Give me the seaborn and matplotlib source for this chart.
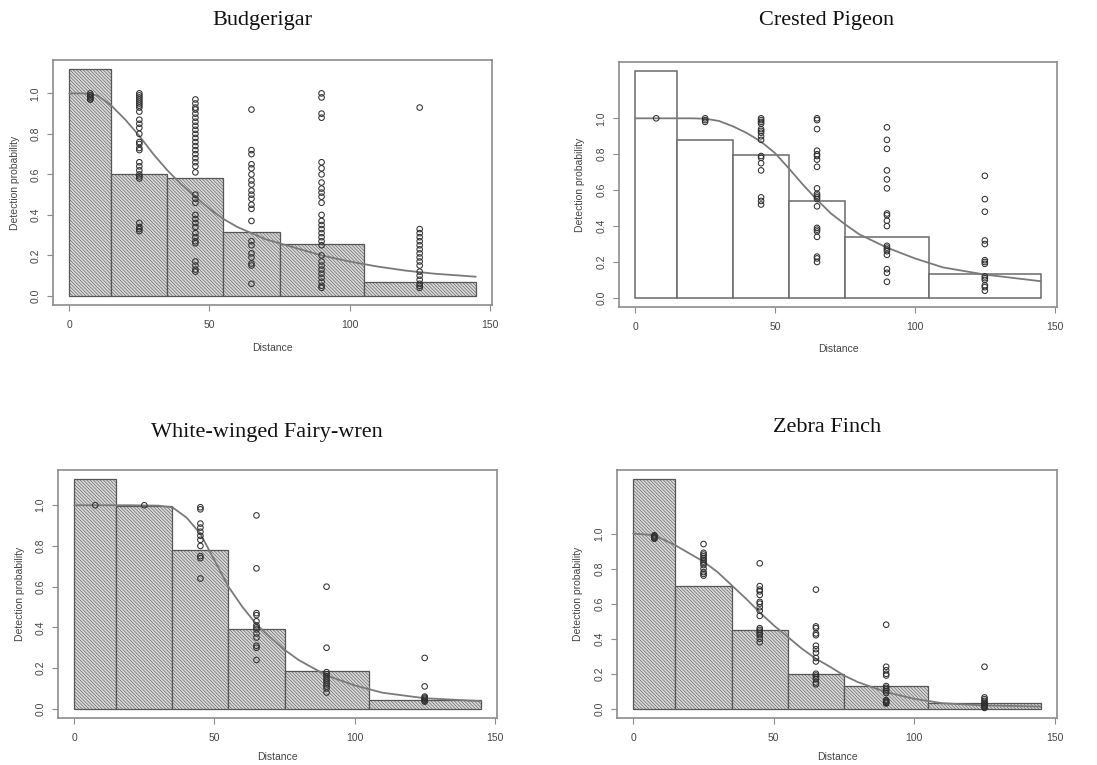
import matplotlib
matplotlib.use('Agg')
import matplotlib.pyplot as plt
import numpy as np
import pandas as pd
import seaborn as sns

# distance bins and bin midpoints (m)
BIN_EDGES = [0, 15, 35, 55, 75, 105, 145]
BIN_MIDS = [7.5, 25, 45, 65, 90, 125]

# scaled histogram heights per species
BUDG_BARS = [1.12, 0.60, 0.58, 0.315, 0.255, 0.07]
PIGEON_BARS = [1.263, 0.88, 0.793, 0.537, 0.337, 0.133]
WREN_BARS = [1.128, 0.995, 0.779, 0.392, 0.185, 0.044]
FINCH_BARS = [1.31, 0.699, 0.448, 0.196, 0.13, 0.032]

# fitted detection functions
BUDG_CURVE_X = [0, 5, 10, 15, 20, 25, 30, 35, 40, 45, 50, 55, 60, 65, 70, 75, 80, 90, 100, 110, 120, 130, 145]
BUDG_CURVE_Y = [1.0, 1.0, 0.99, 0.94, 0.87, 0.79, 0.70, 0.62, 0.55, 0.49, 0.43, 0.38, 0.34, 0.31, 0.28,
                0.26, 0.24, 0.20, 0.17, 0.145, 0.125, 0.11, 0.095]
PIGEON_CURVE_X = [0, 10, 20, 25, 30, 35, 40, 45, 50, 55, 60, 65, 70, 75, 80, 90, 100, 110, 125, 145]
PIGEON_CURVE_Y = [1.0, 1.0, 1.0, 0.998, 0.985, 0.955, 0.917, 0.87, 0.806, 0.72, 0.63, 0.546, 0.47, 0.41,
                  0.355, 0.28, 0.22, 0.17, 0.13, 0.093]
WREN_CURVE_X = [0, 10, 20, 30, 35, 40, 45, 50, 55, 60, 65, 70, 75, 80, 90, 100, 110, 125, 145]
WREN_CURVE_Y = [1.0, 1.0, 1.0, 0.998, 0.99, 0.94, 0.86, 0.73, 0.60, 0.50, 0.415, 0.35, 0.29, 0.24,
                0.164, 0.115, 0.079, 0.052, 0.038]
FINCH_CURVE_X = [0, 7.5, 15, 20, 25, 30, 35, 40, 45, 50, 55, 60, 65, 70, 75, 80, 90, 100, 110, 125, 145]
FINCH_CURVE_Y = [1.0, 0.99, 0.933, 0.886, 0.84, 0.78, 0.705, 0.63, 0.55, 0.476, 0.41, 0.343, 0.286,
                 0.24, 0.19, 0.152, 0.095, 0.057, 0.032, 0.019, 0.013]

# observed detection probabilities at each bin midpoint
BUDG_PTS = {
    7.5: [1.0, 0.99, 0.99, 0.98, 0.98, 0.97, 0.97],
    25: [1.0, 0.99, 0.98, 0.97, 0.96, 0.95, 0.94, 0.93, 0.91, 0.87, 0.85, 0.83, 0.80, 0.76, 0.75, 0.73,
         0.72, 0.66, 0.64, 0.62, 0.60, 0.59, 0.58, 0.36, 0.34, 0.33, 0.32],
    45: [0.97, 0.95, 0.93, 0.92, 0.90, 0.88, 0.86, 0.84, 0.82, 0.80, 0.78, 0.76, 0.74, 0.72, 0.70, 0.68,
         0.66, 0.64, 0.61, 0.50, 0.48, 0.46, 0.40, 0.38, 0.36, 0.34, 0.31, 0.29, 0.27, 0.26, 0.17, 0.15,
         0.13, 0.12],
    65: [0.92, 0.72, 0.70, 0.65, 0.63, 0.60, 0.57, 0.55, 0.52, 0.50, 0.48, 0.45, 0.43, 0.37, 0.27, 0.25,
         0.21, 0.19, 0.16, 0.15, 0.06],
    90: [1.0, 0.98, 0.90, 0.88, 0.66, 0.63, 0.60, 0.56, 0.53, 0.51, 0.49, 0.46, 0.40, 0.37, 0.35, 0.33,
         0.31, 0.29, 0.27, 0.25, 0.20, 0.17, 0.15, 0.13, 0.11, 0.09, 0.07, 0.05, 0.04],
    125: [0.93, 0.33, 0.31, 0.29, 0.27, 0.25, 0.23, 0.21, 0.19, 0.17, 0.15, 0.12, 0.10, 0.08, 0.06, 0.05,
          0.04],
}
PIGEON_PTS = {
    7.5: [1.0],
    25: [1.0, 0.99, 0.98],
    45: [1.0, 0.99, 0.98, 0.97, 0.94, 0.93, 0.92, 0.90, 0.88, 0.79, 0.78, 0.75, 0.71, 0.56, 0.54, 0.52],
    65: [1.0, 0.99, 0.94, 0.82, 0.80, 0.79, 0.77, 0.73, 0.61, 0.58, 0.57, 0.56, 0.55, 0.51, 0.39, 0.38,
         0.37, 0.34, 0.23, 0.22, 0.20],
    90: [0.95, 0.88, 0.83, 0.71, 0.66, 0.61, 0.47, 0.46, 0.43, 0.40, 0.29, 0.28, 0.27, 0.26, 0.24, 0.16,
         0.14, 0.09],
    125: [0.68, 0.55, 0.48, 0.32, 0.30, 0.21, 0.20, 0.19, 0.12, 0.11, 0.10, 0.07, 0.06, 0.04],
}
WREN_PTS = {
    7.5: [1.0],
    25: [1.0],
    45: [0.99, 0.98, 0.91, 0.89, 0.87, 0.85, 0.83, 0.80, 0.75, 0.74, 0.64],
    65: [0.95, 0.69, 0.47, 0.46, 0.43, 0.41, 0.40, 0.39, 0.37, 0.35, 0.31, 0.30, 0.24],
    90: [0.60, 0.30, 0.18, 0.17, 0.16, 0.15, 0.14, 0.13, 0.12, 0.11, 0.10, 0.08],
    125: [0.25, 0.11, 0.06, 0.055, 0.05, 0.045, 0.04, 0.035],
}
FINCH_PTS = {
    7.5: [0.99, 0.985, 0.98, 0.975, 0.97],
    25: [0.94, 0.89, 0.88, 0.87, 0.86, 0.85, 0.84, 0.83, 0.82, 0.80, 0.78, 0.77, 0.76],
    45: [0.83, 0.70, 0.68, 0.67, 0.65, 0.61, 0.60, 0.58, 0.56, 0.53, 0.46, 0.45, 0.44, 0.43, 0.42, 0.40,
         0.38],
    65: [0.68, 0.47, 0.46, 0.43, 0.42, 0.36, 0.34, 0.32, 0.29, 0.27, 0.20, 0.19, 0.18, 0.17, 0.15, 0.14],
    90: [0.48, 0.24, 0.22, 0.20, 0.19, 0.13, 0.12, 0.11, 0.10, 0.09, 0.05, 0.045, 0.04, 0.035, 0.03],
    125: [0.24, 0.065, 0.055, 0.045, 0.035, 0.03, 0.025, 0.02, 0.015, 0.01, 0.005],
}

X_TICKS = [0, 50, 100, 150]
Y_TICKS = [0.0, 0.2, 0.4, 0.6, 0.8, 1.0]

W, H = 1097, 765

# panel layout in pixels: box (left, top, right, bottom), title centre, label centres
PANELS = [
    dict(name='Budgerigar', bars=BUDG_BARS, cx=BUDG_CURVE_X, cy=BUDG_CURVE_Y, pts=BUDG_PTS,
         box=(53, 60, 492, 305), title=(262, 21), xlab_y=348, ylab_x=15, hatched=True),
    dict(name='Crested Pigeon', bars=PIGEON_BARS, cx=PIGEON_CURVE_X, cy=PIGEON_CURVE_Y, pts=PIGEON_PTS,
         box=(619, 62, 1057, 307), title=(827, 21), xlab_y=349, ylab_x=580, hatched=False),
    dict(name='White-winged Fairy-wren', bars=WREN_BARS, cx=WREN_CURVE_X, cy=WREN_CURVE_Y, pts=WREN_PTS,
         box=(58, 470, 497, 718), title=(267, 432), xlab_y=757, ylab_x=20, hatched=True),
    dict(name='Zebra Finch', bars=FINCH_BARS, cx=FINCH_CURVE_X, cy=FINCH_CURVE_Y, pts=FINCH_PTS,
         box=(617, 470, 1057, 718), title=(827, 427), xlab_y=757, ylab_x=578, hatched=True),
]

sns.set_style('white')
plt.rcParams['font.family'] = ['Liberation Sans', 'DejaVu Sans']
plt.rcParams['hatch.linewidth'] = 0.4

AXIS_GREY = '#8c8c8c'
TEXT_GREY = '#444444'


def draw_panel(fig, p):
    l, t, r, b = p['box']
    ax = fig.add_axes([l / W, 1 - b / H, (r - l) / W, (b - t) / H])

    if p['hatched']:
        bar_kw = dict(facecolor='#d8d8d8', edgecolor='#555555', hatch='\\' * 10, linewidth=0.9)
    else:
        bar_kw = dict(facecolor='white', edgecolor='#6a6a6a', linewidth=1.1)
    sns.histplot(x=BIN_MIDS, weights=p['bars'], bins=BIN_EDGES, stat='count', ax=ax, **bar_kw)

    sns.lineplot(x=p['cx'], y=p['cy'], ax=ax, color='#7a7a7a', linewidth=1.3, zorder=3)

    pts = pd.DataFrame([(d, v) for d, vals in p['pts'].items() for v in vals],
                       columns=['distance', 'prob'])
    sns.scatterplot(data=pts, x='distance', y='prob', ax=ax, color='none', edgecolor='#303030',
                    s=16, linewidth=0.75, zorder=4)

    ymax = max(p['bars'])
    ax.set_xlim(-0.04 * 145, 145 * 1.04)
    ax.set_ylim(-0.04 * ymax, ymax * 1.04)
    ax.set_xticks(X_TICKS)
    ax.set_yticks(Y_TICKS)
    ax.set_xticklabels([str(v) for v in X_TICKS])
    ax.set_yticklabels([f'{v:.1f}' for v in Y_TICKS], rotation=90, va='center')
    ax.tick_params(axis='both', direction='out', length=4, width=0.8, color=AXIS_GREY,
                   labelsize=7.5, labelcolor=TEXT_GREY, left=True, bottom=True)
    ax.tick_params(axis='x', pad=7)
    ax.tick_params(axis='y', pad=5)
    for sp in ax.spines.values():
        sp.set_visible(True)
        sp.set_color(AXIS_GREY)
        sp.set_linewidth(1.2)

    ax.set_xlabel('Distance', fontsize=7.5, color=TEXT_GREY, va='center')
    ax.set_ylabel('Detection probability', fontsize=7.5, color=TEXT_GREY, va='center')
    ax.xaxis.set_label_coords(0.5, -(p['xlab_y'] - b) / (b - t))
    ax.yaxis.set_label_coords((p['ylab_x'] - l) / (r - l), 0.5)

    tx, ty = p['title']
    fig.text(tx / W, 1 - ty / H, p['name'], ha='center', va='center', fontsize=16,
             family=['Liberation Serif', 'DejaVu Serif'], color='#111111')
    return ax


fig = plt.figure(figsize=(W / 100, H / 100), dpi=100)
for panel in PANELS:
    draw_panel(fig, panel)

fig.savefig('out.png', dpi=100, facecolor='white')
plt.close(fig)
